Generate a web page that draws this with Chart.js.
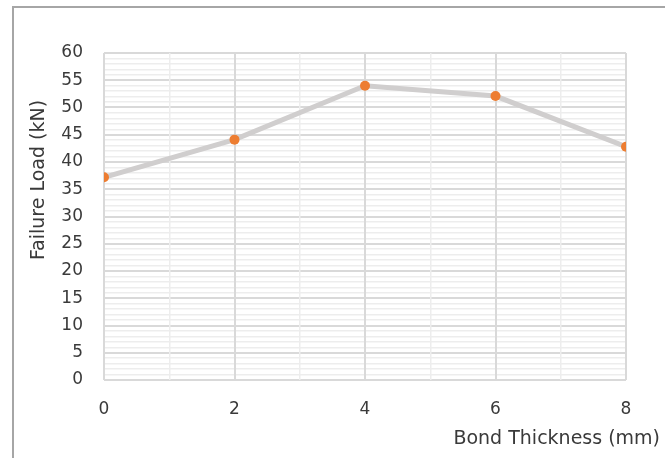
<!DOCTYPE html>
<html>
<head>
<meta charset="utf-8">
<script src="https://cdn.jsdelivr.net/npm/chart.js@4/dist/chart.umd.min.js"></script>
<style>
  html, body { margin: 0; padding: 0; background: #ffffff; }
  #wrap { position: relative; width: 665px; height: 458px; }
</style>
</head>
<body>
<div id="wrap"><canvas id="c" width="665" height="458"></canvas></div>
<script>
// Bond thickness (mm) and measured failure load (kN)
const thickness = [0, 2, 4, 6, 8];
const failureLoad = [37.2, 44.1, 54.0, 52.1, 42.8];

const xTitle = 'Bond Thickness (mm)';
const yTitle = 'Failure Load (kN)';

const FONT = '"DejaVu Sans", "Open Sans", sans-serif';
const TEXT = '#3a3a3a';
const MAJOR = '#d9d9d9';
const MINOR = '#ededed';

// Frame and axis titles drawn around the plot
const decorations = {
  id: 'decorations',
  afterDraw(chart) {
    const ctx = chart.ctx;
    ctx.save();
    ctx.strokeStyle = '#a6a6a6';
    ctx.lineWidth = 2;
    ctx.beginPath();
    ctx.moveTo(13, 470);
    ctx.lineTo(13, 7);
    ctx.lineTo(670, 7);
    ctx.stroke();

    ctx.fillStyle = TEXT;
    ctx.font = '19px ' + FONT;
    ctx.textAlign = 'right';
    ctx.textBaseline = 'middle';
    ctx.fillText(xTitle, 660, 439);

    ctx.translate(39, 180);
    ctx.rotate(-Math.PI / 2);
    ctx.textAlign = 'center';
    ctx.fillText(yTitle, 0, 0);
    ctx.restore();
  }
};

new Chart(document.getElementById('c'), {
  type: 'line',
  data: {
    datasets: [{
      data: thickness.map((t, i) => ({ x: t, y: failureLoad[i] })),
      borderColor: '#d0cece',
      borderWidth: 5,
      pointBackgroundColor: '#ed7d31',
      pointBorderWidth: 0,
      pointRadius: 5,
      pointHoverRadius: 5,
      tension: 0
    }]
  },
  options: {
    responsive: false,
    animation: false,
    events: [],
    layout: { padding: { top: 53, right: 39, left: 0, bottom: 0 } },
    plugins: { legend: { display: false }, tooltip: { enabled: false } },
    scales: {
      x: {
        type: 'linear',
        min: 0, max: 8,
        afterFit(s) { s.height = 78; },
        border: { display: false },
        grid: {
          z: -1,
          drawTicks: false,
          color: c => (c.tick && c.tick.value % 2 === 0) ? MAJOR : MINOR,
          lineWidth: c => (c.tick && c.tick.value % 2 === 0) ? 2 : 1.5
        },
        ticks: {
          stepSize: 1,
          autoSkip: false,
          maxRotation: 0,
          padding: 19,
          color: TEXT,
          font: { family: FONT, size: 17 },
          callback: v => (v % 2 === 0 ? String(v) : '')
        }
      },
      y: {
        min: 0, max: 60,
        afterFit(s) { s.width = 104; },
        border: { display: false },
        grid: {
          z: -2,
          drawTicks: false,
          color: c => (c.tick && c.tick.value % 5 === 0) ? MAJOR : MINOR,
          lineWidth: c => (c.tick && c.tick.value % 5 === 0) ? 2 : 1.5
        },
        ticks: {
          stepSize: 1,
          autoSkip: false,
          padding: 21,
          color: TEXT,
          font: { family: FONT, size: 17 },
          callback: v => (v % 5 === 0 ? String(v) : '')
        }
      }
    }
  },
  plugins: [decorations]
});
</script>
</body>
</html>
